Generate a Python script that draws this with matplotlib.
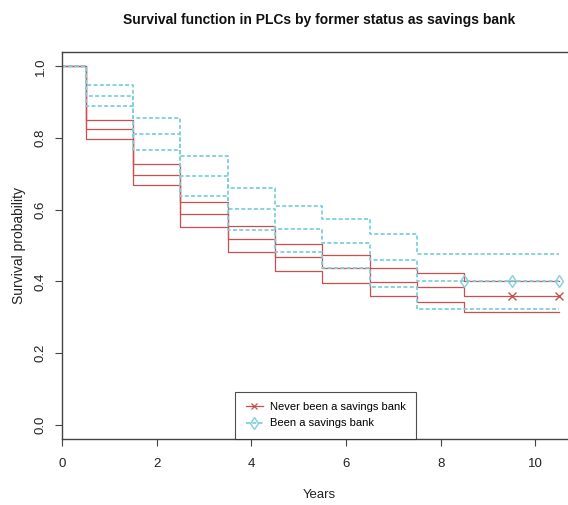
import numpy as np
import matplotlib.pyplot as plt

plt.rcParams['font.family'] = ['Liberation Sans', 'DejaVu Sans']

# step times (years) and end of follow-up
times = [0, 0.5, 1.5, 2.5, 3.5, 4.5, 5.5, 6.5, 7.5, 8.5]
t_end = 10.5

# never been a savings bank
never_surv = [1.0, 0.825, 0.696, 0.589, 0.517, 0.468, 0.437, 0.399, 0.383, 0.358]
never_upper = [1.0, 0.849, 0.727, 0.622, 0.554, 0.505, 0.474, 0.438, 0.424, 0.402]
never_lower = [1.0, 0.798, 0.668, 0.553, 0.481, 0.430, 0.396, 0.358, 0.341, 0.314]
never_censor = [9.5, 10.5]

# been a savings bank
been_surv = [1.0, 0.917, 0.810, 0.694, 0.602, 0.547, 0.506, 0.460, 0.401, 0.401]
been_upper = [1.0, 0.948, 0.857, 0.749, 0.661, 0.610, 0.573, 0.533, 0.477, 0.477]
been_lower = [1.0, 0.889, 0.766, 0.639, 0.542, 0.482, 0.437, 0.385, 0.322, 0.322]
been_censor = [8.5, 9.5, 10.5]

red = '#c9504f'
cyan = '#7fd0dc'

fig = plt.figure(figsize=(5.68, 5.05), dpi=100)
ax = fig.add_axes([62 / 568, 66 / 505, 516 / 568, 387 / 505])

t = np.array(times + [t_end])


def draw_group(surv, upper, lower, censor, color, marker, ls, lw, dashes=None):
    for vals in (upper, surv, lower):
        v = np.array(vals + [vals[-1]])
        line, = ax.step(t, v, where='post', color=color, lw=lw, ls=ls)
        if dashes:
            line.set_dashes(dashes)
    # censoring marks on the survival curve
    idx = np.searchsorted(times, censor, side='right') - 1
    ax.plot(censor, np.array(surv)[idx], ls='none', marker=marker, color=color,
            mfc='none', ms=6, mew=1.0)


draw_group(never_surv, never_upper, never_lower, never_censor, red, 'x', '-', 0.9)
draw_group(been_surv, been_upper, been_lower, been_censor, cyan, 'd', '--', 1.3, (2.2, 1.3))

ax.set_xlim(0, 10.9)
ax.set_ylim(-0.04, 1.04)
ax.set_xticks([0, 2, 4, 6, 8, 10])
ax.set_yticks([0.0, 0.2, 0.4, 0.6, 0.8, 1.0])
ax.set_yticklabels(['0.0', '0.2', '0.4', '0.6', '0.8', '1.0'], rotation=90, va='center')

for s in ax.spines.values():
    s.set_color('#444444')
    s.set_linewidth(1.0)
ax.tick_params(axis='both', length=5, width=0.8, color='#444444', labelsize=9.5,
               labelcolor='#222222')
ax.tick_params(axis='x', pad=9)
ax.tick_params(axis='y', pad=6)

ax.set_xlabel('Years', fontsize=9.5, color='#222222')
ax.xaxis.set_label_coords(0.498, -0.13)
ax.set_ylabel('Survival probability', fontsize=10, color='#222222')
ax.yaxis.set_label_coords(-0.07, 0.5)

fig.text(319 / 568, 1 - 20 / 505, 'Survival function in PLCs by former status as savings bank',
         ha='center', va='center', fontsize=10, fontweight='bold', color='#111111')

h1, = ax.plot([], [], color=red, lw=0.9, marker='x', ms=4.5, mew=0.9)
h2, = ax.plot([], [], color=cyan, lw=1.3, ls='--', marker='d', ms=6, mfc='none', mew=1.0)
h2.set_dashes((2.2, 1.3))
leg = ax.legend([h1, h2], ['Never been a savings bank', 'Been a savings bank'],
                loc='lower left', bbox_to_anchor=((235 - 62) / 516, 0.0),
                fontsize=8, frameon=True, fancybox=False, borderaxespad=0,
                handlelength=1.6, handletextpad=0.6, borderpad=0.95, labelspacing=0.55)
leg.get_frame().set_edgecolor('#222222')
leg.get_frame().set_linewidth(0.8)

fig.savefig('out.png', dpi=100)
